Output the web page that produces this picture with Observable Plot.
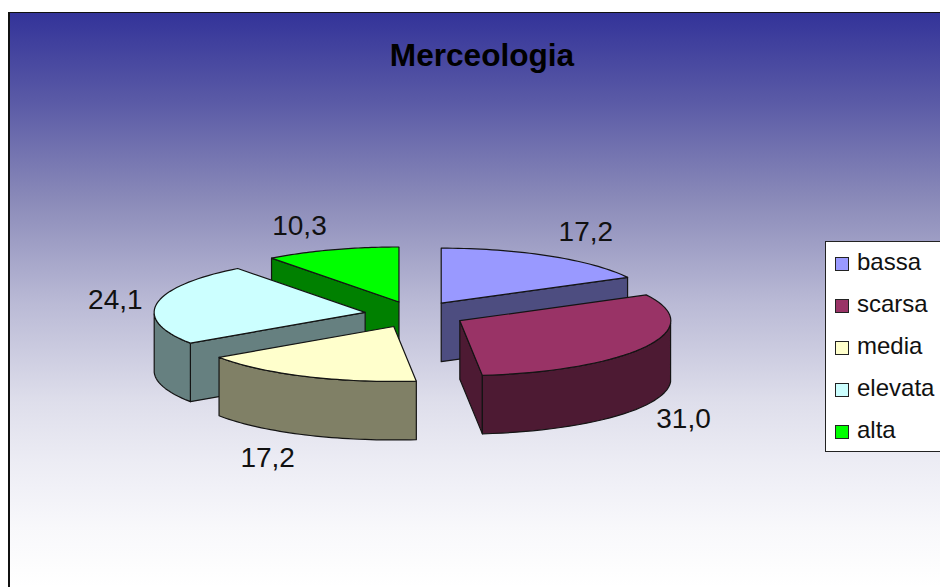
<!DOCTYPE html>
<html>
<head>
<meta charset="utf-8">
<script src="https://cdn.jsdelivr.net/npm/d3@7"></script>
<script src="https://cdn.jsdelivr.net/npm/@observablehq/plot@0.6"></script>
<style>
  html, body { margin: 0; padding: 0; background: #fff; overflow: hidden; }
  #page { position: relative; width: 940px; height: 587px; overflow: hidden; font-family: "Liberation Sans", Arial, sans-serif; }
  #frame { position: absolute; left: 8px; top: 12px; width: 940px; height: 580px; box-sizing: border-box;
           border-left: 2px solid #111; border-top: 1px solid #111;
           background: linear-gradient(#333399 0px, #5a5aa6 88px, #8b8bb9 188px, #b9b9d5 288px,
                                       #dedeeb 388px, #ececf4 448px, #f8f8fb 515px, #ffffff 574px); }
  #chart { position: absolute; left: 0; top: 0; }
  #legend { position: absolute; left: 825px; top: 241px; width: 130px; height: 211px; box-sizing: border-box;
            background: #fff; border: 1.5px solid #222; }
  .key { position: absolute; left: 9px; height: 28px; line-height: 28px; font-size: 24px; color: #111; white-space: nowrap; }
  .key i { position: absolute; left: 0; top: 7px; width: 14px; height: 14px; box-sizing: border-box; border: 1px solid #222; }
  .key span { position: absolute; left: 22px; top: -2px; }
</style>
</head>
<body>
<div id="page">
  <div id="frame"></div>
  <div id="chart"></div>
  <div id="legend"></div>
</div>
<script>
// Merceologia: share of items per class
const categories = ["bassa", "scarsa", "media", "elevata", "alta"];
const shares = [17.2, 31.0, 17.2, 24.1, 10.3];
const shareLabels = ["17,2", "31,0", "17,2", "24,1", "10,3"];
const topColors = ["#9999ff", "#993366", "#ffffcc", "#ccffff", "#00ff00"];
const wallColors = ["#4d4d80", "#4d1a33", "#808066", "#668080", "#008000"];

// Pie geometry in unit-circle terms; the x and y scales turn it into an oblique view.
const width = 940, height = 587;
const centerX = 414.6, centerY = 314, radiusX = 211, radiusY = 55;
const thickness = 58.5 / radiusY;  // wall height, in y units
const explode = 0.24;              // how far each slice is pulled from the centre
const drawOrder = [0, 4, 3, 2, 1]; // back to front
// Label reach from each slice apex along its mid-angle (x, y), and its drop below the rim
const labelReach = [[1.33, 1.5, 0], [1.2, 1.56, 1], [1.42, 1.46, 1], [1.2, 1.4, 0], [1.48, 1.46, 0]];

const slices = d3.pie().sort(null)(shares);
const rim = (a) => ({x: Math.sin(a), y: Math.cos(a)});

const marks = [];
const face = (pts, fill) => marks.push(Plot.line(pts, {
  x: "x", y: "y", fill, stroke: "#141414", strokeWidth: 1.2, strokeLinejoin: "round", curve: "linear"
}));

for (const i of drawOrder) {
  const {startAngle: a0, endAngle: a1} = slices[i];
  const mid = (a0 + a1) / 2;
  const ax = Math.sin(mid) * explode, ay = Math.cos(mid) * explode;
  const at = (a, r = 1, drop = 0) => ({x: ax + r * rim(a).x, y: ay + r * rim(a).y - drop});
  const arc = d3.range(0, 41).map((k) => a0 + (a1 - a0) * k / 40);

  // Radial walls that face the viewer
  for (const [a, visible] of [[a0, Math.sin(a0) < -1e-6], [a1, Math.sin(a1) > 1e-6]]) {
    if (visible) {
      face([at(a, 0), at(a), at(a, 1, thickness), at(a, 0, thickness), at(a, 0)], wallColors[i]);
    }
  }
  // Outer wall: only the front half of the rim can be seen
  const front = arc.filter((a) => Math.cos(a) <= 0);
  if (front.length > 1) {
    const outer = [...front.map((a) => at(a)), ...front.slice().reverse().map((a) => at(a, 1, thickness))];
    face([...outer, outer[0]], wallColors[i]);
  }
  // Top face
  face([at(a0, 0), ...arc.map((a) => at(a)), at(a0, 0)], topColors[i]);
}

const labelRows = slices.map((s, i) => {
  const mid = (s.startAngle + s.endAngle) / 2;
  const [rx, ry, low] = labelReach[i];
  return {
    text: shareLabels[i],
    x: Math.sin(mid) * (explode + rx),
    y: Math.cos(mid) * (explode + ry) - low * thickness
  };
});
marks.push(Plot.text(labelRows, {
  x: "x", y: "y", text: "text", fontSize: 28, fill: "#111", textAnchor: "middle", lineAnchor: "middle",
  fontFamily: "Liberation Sans, Arial, sans-serif"
}));
marks.push(Plot.text(["Merceologia"], {
  frameAnchor: "top", dy: 55, dx: 11.5, fontSize: 31.6, fontWeight: "bold", fill: "#000", lineAnchor: "middle",
  fontFamily: "Liberation Sans, Arial, sans-serif"
}));

const chart = Plot.plot({
  width, height, margin: 0,
  style: {background: "transparent"},
  x: {domain: [-centerX / radiusX, (width - centerX) / radiusX], range: [0, width], axis: null},
  y: {domain: [(centerY - height) / radiusY, centerY / radiusY], range: [height, 0], axis: null},
  marks
});
document.getElementById("chart").append(chart);

// Legend entries, one per category
const legend = document.getElementById("legend");
categories.forEach((name, i) => {
  const row = document.createElement("div");
  row.className = "key";
  row.style.top = (7.5 + i * 42.2) + "px";
  const swatch = document.createElement("i");
  swatch.style.background = topColors[i];
  const label = document.createElement("span");
  label.textContent = name;
  row.append(swatch, label);
  legend.append(row);
});
</script>
</body>
</html>
